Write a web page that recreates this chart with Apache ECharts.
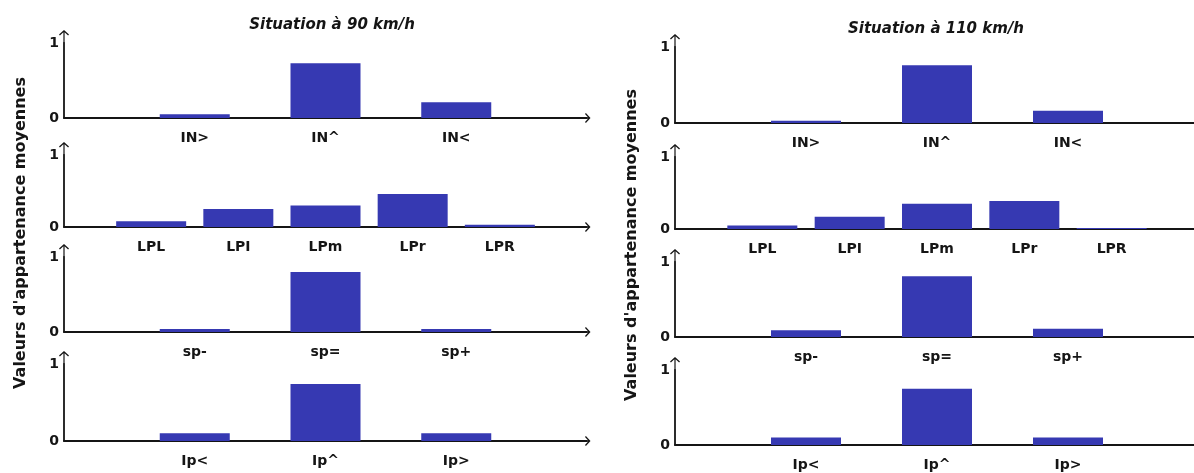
<!DOCTYPE html>
<html>
<head>
<meta charset="utf-8">
<title>Valeurs d'appartenance moyennes</title>
<script src="https://cdn.jsdelivr.net/npm/echarts@6/dist/echarts.min.js"></script>
<style>
html, body { margin: 0; padding: 0; background: #fff; }
#chart { width: 1194px; height: 473px; }
</style>
</head>
<body>
<div id="chart"></div>
<script>
// categories of each sub-chart
var catIN = ['IN>', 'IN^', 'IN<'];
var catLP = ['LPL', 'LPI', 'LPm', 'LPr', 'LPR'];
var catSP = ['sp-', 'sp=', 'sp+'];
var catIP = ['Ip<', 'Ip^', 'Ip>'];

// situation a 90 km/h
var in90 = [0.05, 0.73, 0.21];
var lp90 = [0.08, 0.25, 0.3, 0.46, 0.03];
var sp90 = [0.04, 0.8, 0.04];
var ip90 = [0.1, 0.74, 0.1];

// situation a 110 km/h
var in110 = [0.03, 0.76, 0.16];
var lp110 = [0.05, 0.17, 0.35, 0.39, 0.015];
var sp110 = [0.09, 0.81, 0.11];
var ip110 = [0.1, 0.75, 0.1];

var yTicks = [0, 1];
var titles = ['Situation à 90 km/h', 'Situation à 110 km/h'];
var yName = "Valeurs d'appartenance moyennes";

var barColor = '#3639b2';
var ink = '#151515';
// open arrow head with a short stem, pointing up (echarts turns it for the x axis)
var arrow = 'path://M5,0 L10,4.6 L9.1,5.5 L5.6,2.3 L5.6,13 L4.4,13 L4.4,2.3 L0.9,5.5 L0,4.6 Z';

var panels = [
  { left: 64, width: 523, tops: [43, 155, 257, 364], heights: [75, 72, 75, 77],
    sets: [[catIN, in90], [catLP, lp90], [catSP, sp90], [catIP, ip90]] },
  { left: 675, width: 524, tops: [47, 157, 262, 370], heights: [76, 72, 75, 75],
    sets: [[catIN, in110], [catLP, lp110], [catSP, sp110], [catIP, ip110]] }
];

var grid = [], xAxis = [], yAxis = [], series = [];
panels.forEach(function(p) {
  p.sets.forEach(function(s, i) {
    var idx = grid.length;
    grid.push({ left: p.left, width: p.width, top: p.tops[i], height: p.heights[i], outerBoundsMode: 'none' });
    // empty categories at both ends so the bars sit on the ticks
    xAxis.push({
      type: 'category', gridIndex: idx, boundaryGap: false,
      data: [''].concat(s[0]).concat(['']),
      axisLine: { lineStyle: { color: ink, width: 1.8 }, symbol: ['none', arrow], symbolSize: [10, 13], symbolOffset: [0, -3] },
      axisTick: { show: false },
      axisLabel: { interval: 0, margin: 13, color: ink, fontWeight: 'bold', fontSize: 14, fontFamily: 'DejaVu Sans' }
    });
    yAxis.push({
      type: 'value', gridIndex: idx, min: yTicks[0], max: yTicks[1], interval: 1,
      splitLine: { show: false },
      axisTick: { show: false },
      axisLine: { show: true, lineStyle: { color: ink, width: 1.8 }, symbol: ['none', arrow], symbolSize: [10, 13], symbolOffset: [0, 6.5] },
      axisLabel: { margin: 5, color: ink, fontWeight: 'bold', fontSize: 14, fontFamily: 'DejaVu Sans' }
    });
    series.push({
      type: 'bar', xAxisIndex: idx, yAxisIndex: idx, barWidth: 70,
      itemStyle: { color: barColor },
      data: [null].concat(s[1]).concat([null])
    });
  });
});

var myChart = echarts.init(document.getElementById('chart'));
myChart.setOption({
  backgroundColor: '#fff',
  animation: false,
  grid: grid,
  xAxis: xAxis,
  yAxis: yAxis,
  series: series,
  graphic: [
    { type: 'text', x: 332, y: 25, style: { text: titles[0], fill: ink, font: 'italic bold 15px "DejaVu Sans"', align: 'center', verticalAlign: 'middle' } },
    { type: 'text', x: 936, y: 29, style: { text: titles[1], fill: ink, font: 'italic bold 15px "DejaVu Sans"', align: 'center', verticalAlign: 'middle' } },
    { type: 'text', x: 21, y: 233, rotation: Math.PI / 2, style: { text: yName, fill: ink, font: 'bold 16px "DejaVu Sans"', align: 'center', verticalAlign: 'middle' } },
    { type: 'text', x: 632, y: 245, rotation: Math.PI / 2, style: { text: yName, fill: ink, font: 'bold 16px "DejaVu Sans"', align: 'center', verticalAlign: 'middle' } }
  ]
});
window.addEventListener('resize', function() {
  myChart.resize();
});
</script>
</body>
</html>
